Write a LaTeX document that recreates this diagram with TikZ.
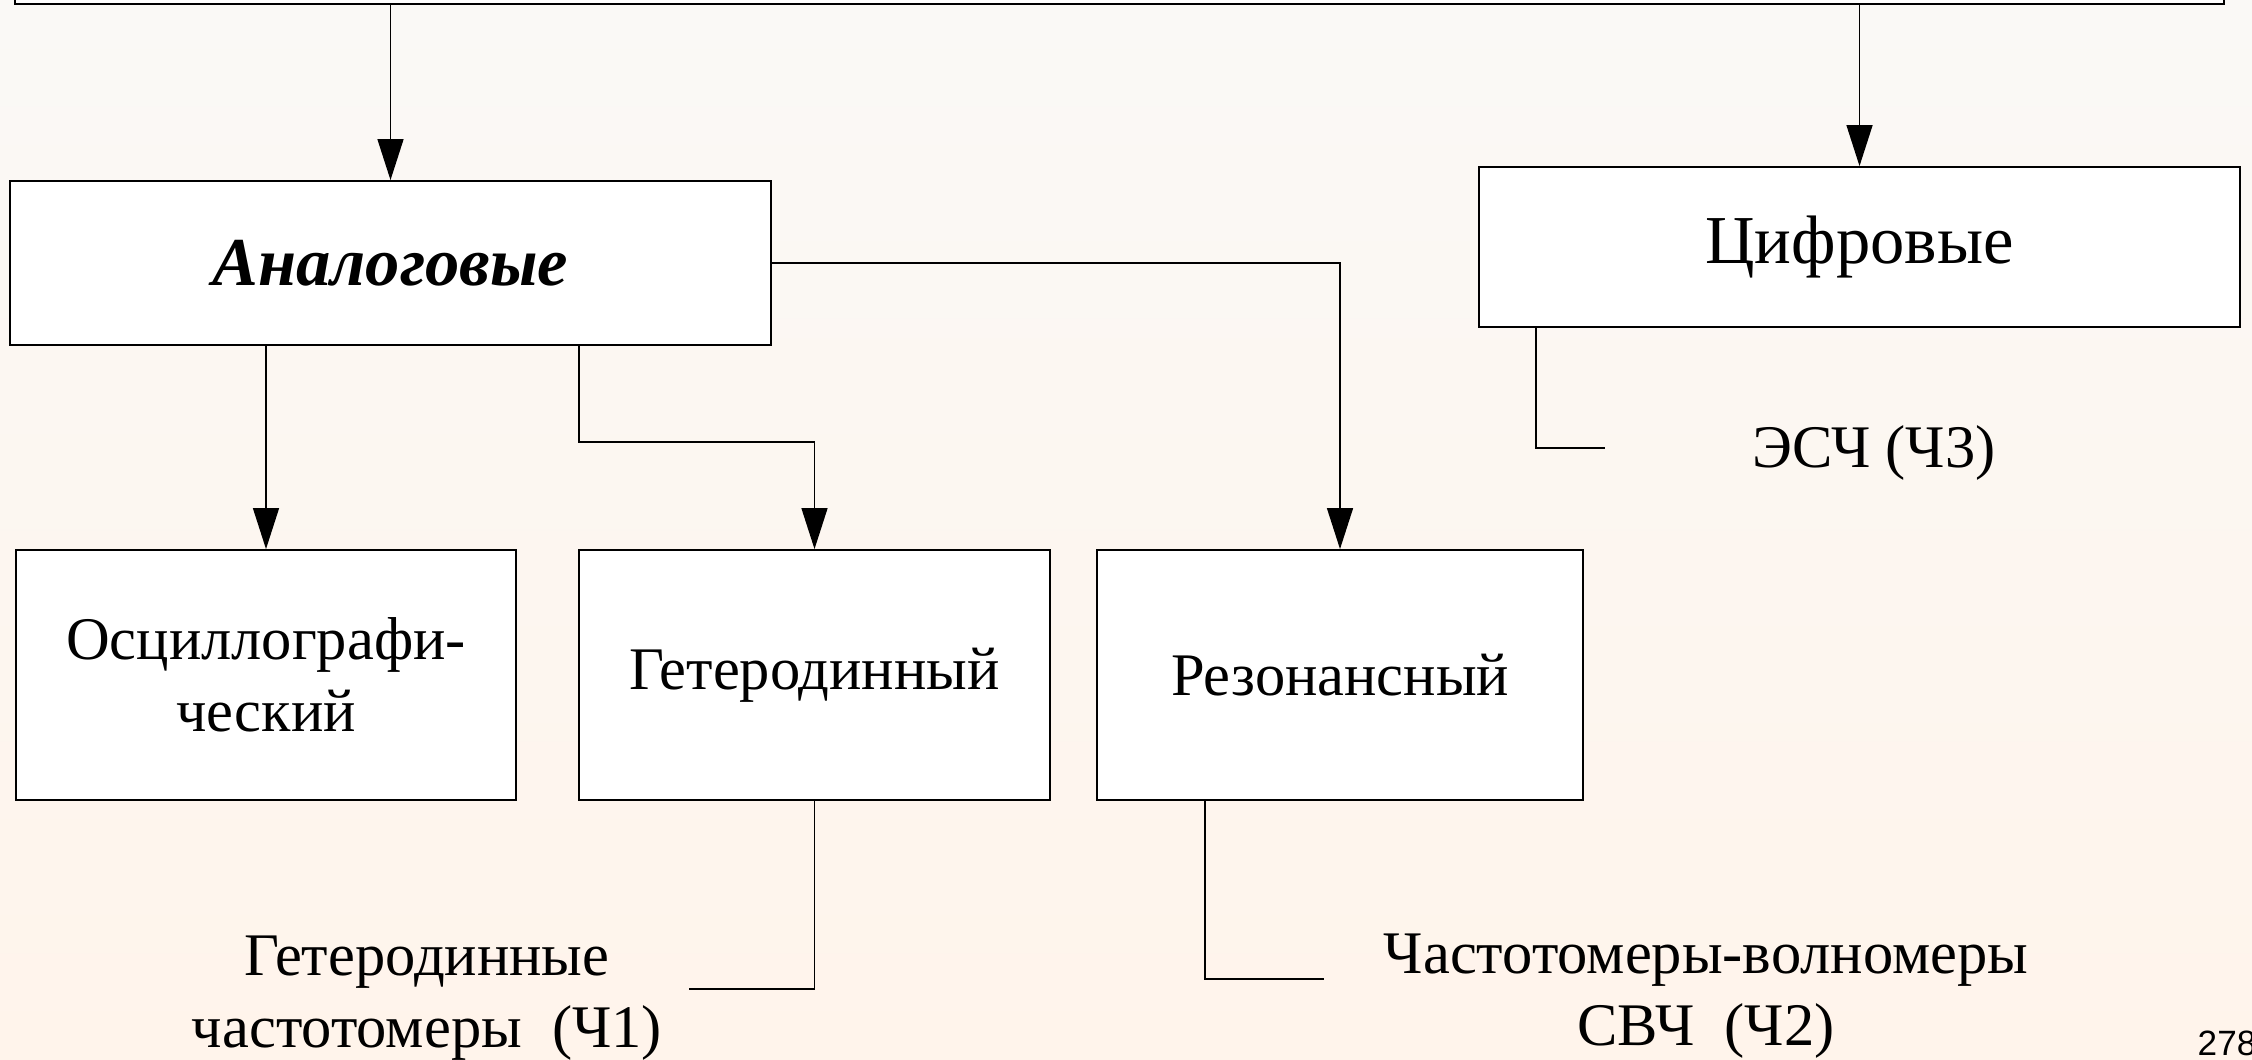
\documentclass[tikz,border=0pt]{standalone}
\usepackage{fontspec}
\setmainfont{Liberation Serif}
\newfontfamily\pagefont{Liberation Sans}
\usetikzlibrary{arrows.meta,calc}

\definecolor{bgtop}{RGB}{250,249,246}
\definecolor{bgbot}{RGB}{255,244,235}

\begin{document}
\begin{tikzpicture}[x=0.01cm, y=-0.01cm,
  every node/.style={font=\fontsize{17.2}{20.4}\selectfont},
  big/.style={font=\fontsize{19.5}{22}\selectfont},
  box/.style={draw, line width=0.5pt, fill=white, inner sep=0pt, align=center},
  link/.style={line width=0.4pt},
  arr/.style={link, -{Triangle[length=0.41cm,width=0.26cm]}}]
  \useasboundingbox (0,0) rectangle (2252,1059);
  \clip (0,0) rectangle (2252,1059);
  \shade[top color=bgtop, bottom color=bgbot] (0,0) rectangle (2252,1059);

  % boxes
  \node[box, minimum width=22.08cm, minimum height=1cm, anchor=south west] (src) at (14,5) {};
  \node[box, big, minimum width=7.61cm, minimum height=1.64cm] (an) at (390.5,263) {\bfseries\itshape Аналоговые};
  \node[box, big, minimum width=7.61cm, minimum height=1.60cm] (ci) at (1859.5,247) {Цифровые};
  \node[box, minimum width=5cm,    minimum height=2.5cm]  (osc) at (266,675) {Осциллографи-\\ческий};
  \node[box, minimum width=4.71cm, minimum height=2.5cm]  (get) at (814.5,675) {Гетеродинный};
  \node[box, minimum width=4.86cm, minimum height=2.5cm]  (rez) at (1340,675) {Резонансный};

  % free texts (base = last line)
  \node[align=center, anchor=base] (ch1) at (427,1047) {Гетеродинные\\частотомеры\ \ (Ч1)};
  \node[align=center, anchor=base] (ch2) at (1706,1045) {Частотомеры-волномеры\\СВЧ\ \ (Ч2)};
  \node[anchor=base] (ch3) at (1874,467) {ЭСЧ (Ч3)};
  \node[font=\pagefont\fontsize{10}{12}\selectfont, anchor=base west, inner sep=0pt] (pg) at (2197,1055) {278};

  \coordinate (k1) at (579,442);
  \coordinate (e1) at (689,989);
  \coordinate (e2) at (1324,979);
  \coordinate (e3) at (1605,448);

  % connectors
  \draw[arr] (src.south -| an.north) -- (an.north);
  \draw[arr] (src.south -| ci.north) -- (ci.north);
  \draw[arr] (an.south -| osc.north) -- (osc.north);
  \draw[arr] (an.south -| k1) -- (k1) -| (get.north);
  \draw[arr] (an.east) -| (rez.north);
  \draw[link] (get.south) |- (e1);
  \draw[link] ([xshift=1.09cm]rez.south west) |- (e2);
  \draw[link] ([xshift=0.58cm]ci.south west) |- (e3);
\end{tikzpicture}
\end{document}
